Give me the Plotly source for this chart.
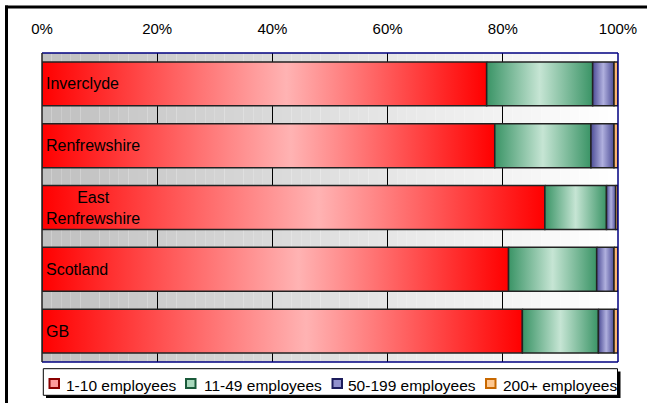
import plotly.graph_objects as go

categories = ["Inverclyde", "Renfrewshire", "East<br>Renfrewshire", "Scotland", "GB"]
series_names = ["1-10 employees", "11-49 employees", "50-199 employees", "200+ employees"]
emp_1_10 = [77.2, 78.6, 87.3, 81.0, 83.4]
emp_11_49 = [18.4, 16.7, 10.7, 15.3, 13.2]
emp_50_199 = [3.7, 4.0, 1.6, 3.0, 2.7]
emp_200 = [0.7, 0.7, 0.4, 0.7, 0.7]
tick_vals = [0, 20, 40, 60, 80, 100]
tick_text = ["0%", "20%", "40%", "60%", "80%", "100%"]

series = [emp_1_10, emp_11_49, emp_50_199, emp_200]
scales = [
    [[0, "#ff0000"], [0.55, "#ffb3b3"], [1, "#ff0000"]],
    [[0, "#3a9466"], [0.5, "#c6e5d4"], [1, "#3a9466"]],
    [[0, "#4c4c96"], [0.5, "#b0b0de"], [1, "#4c4c96"]],
    [[0, "#e89040"], [0.5, "#ffc080"], [1, "#e89040"]],
]
icon_fill = ["#ff9c9c", "#a8d8bc", "#9090cc", "#ffc890"]
icon_line = ["#8a0000", "#1a5a3a", "#1c1c5c", "#c86800"]
FONT = "Liberation Sans, Arial, sans-serif"
half = 0.355

W, H = 647, 403
L, R, T, B = 42, 29, 53, 41
PW, PH = W - L - R, H - T - B


def px(x):
    return (x - L) / PW


def py(y):
    return (H - B - y) / PH


fig = go.Figure()

for si, vals in enumerate(series):
    for ci, v in enumerate(vals):
        start = sum(series[k][ci] for k in range(si))
        end = start + v
        fig.add_trace(go.Scatter(
            x=[start, end, end, start, start],
            y=[ci - half, ci - half, ci + half, ci + half, ci - half],
            mode="lines",
            fill="toself",
            fillgradient=dict(type="horizontal", colorscale=scales[si]),
            line=dict(color="#222222", width=1.5),
            name=series_names[si],
            legendgroup=series_names[si],
            showlegend=False,
            hoverinfo="skip",
        ))

shapes = []
# stepped horizontal gradient background of plot area
N = 60
for i in range(N):
    t = i / (N - 1)
    g = int(round(192 + (255 - 192) * t))
    shapes.append(dict(type="rect", xref="paper", yref="paper",
                       x0=i / N, x1=(i + 1) / N, y0=0, y1=1,
                       fillcolor=f"rgb({g},{g},{g})", line=dict(width=0),
                       layer="below"))
# plot border
shapes += [
    dict(type="line", xref="paper", yref="paper", x0=0, x1=1, y0=1, y1=1,
         line=dict(color="#000080", width=1.5), layer="above"),
    dict(type="line", xref="paper", yref="paper", x0=0, x1=1, y0=0, y1=0,
         line=dict(color="#000080", width=1.5), layer="above"),
    dict(type="line", xref="paper", yref="paper", x0=1, x1=1, y0=0, y1=1,
         line=dict(color="#000080", width=1.5), layer="above"),
    dict(type="line", xref="paper", yref="paper", x0=0, x1=0, y0=0, y1=1,
         line=dict(color="#222222", width=1.5), layer="above"),
]
# outer frame (top and left)
shapes += [
    dict(type="line", xref="paper", yref="paper", x0=px(5), x1=px(650), y0=py(7), y1=py(7),
         line=dict(color="black", width=3)),
    dict(type="line", xref="paper", yref="paper", x0=px(6.5), x1=px(6.5), y0=py(5.5), y1=py(410),
         line=dict(color="black", width=3)),
]
# legend box with shadow
shapes += [
    dict(type="rect", xref="paper", yref="paper", x0=px(46), x1=px(620.5), y0=py(371.5), y1=py(398),
         fillcolor="black", line=dict(width=0)),
    dict(type="rect", xref="paper", yref="paper", x0=px(43.3), x1=px(617.5), y0=py(368.7), y1=py(395.3),
         fillcolor="white", line=dict(color="black", width=1)),
]
icon_x = [49.5, 186, 332.5, 486]
text_x = [64, 201.5, 345.5, 500.5]
for i in range(4):
    shapes.append(dict(type="rect", xref="paper", yref="paper",
                       x0=px(icon_x[i]), x1=px(icon_x[i] + 9.5), y0=py(379), y1=py(388),
                       fillcolor=icon_fill[i], line=dict(color=icon_line[i], width=2)))

annotations = []
for ci, c in enumerate(categories):
    annotations.append(dict(x=0, y=ci, xref="x", yref="y", text=c, showarrow=False,
                            xanchor="left", xshift=2, align="center",
                            font=dict(family=FONT, size=16, color="black")))
for i, name in enumerate(series_names):
    annotations.append(dict(x=px(text_x[i]), y=py(385), xref="paper", yref="paper", text=name,
                            showarrow=False, xanchor="left", yanchor="middle",
                            font=dict(family=FONT, size=15.5, color="black")))

fig.update_layout(
    width=W, height=H,
    margin=dict(l=L, r=R, t=T, b=B, autoexpand=False),
    paper_bgcolor="white",
    plot_bgcolor="rgba(0,0,0,0)",
    font=dict(family=FONT, size=15, color="black"),
    showlegend=False,
    xaxis=dict(range=[0, 100], side="top", tickvals=tick_vals, ticktext=tick_text,
               ticks="outside", ticklen=12, tickcolor="rgba(0,0,0,0)",
               showgrid=True, gridcolor="black", gridwidth=1, zeroline=False,
               showline=False, tickfont=dict(family=FONT, size=15), fixedrange=True,
               automargin=False),
    yaxis=dict(range=[4.5, -0.5], showticklabels=False, showgrid=False, zeroline=False,
               showline=False, ticks="", fixedrange=True, automargin=False),
    shapes=shapes,
    annotations=annotations,
)

fig.write_html("out.html", config={"displayModeBar": False},
               post_script="document.body.style.margin='0';document.body.style.overflow='hidden';")
